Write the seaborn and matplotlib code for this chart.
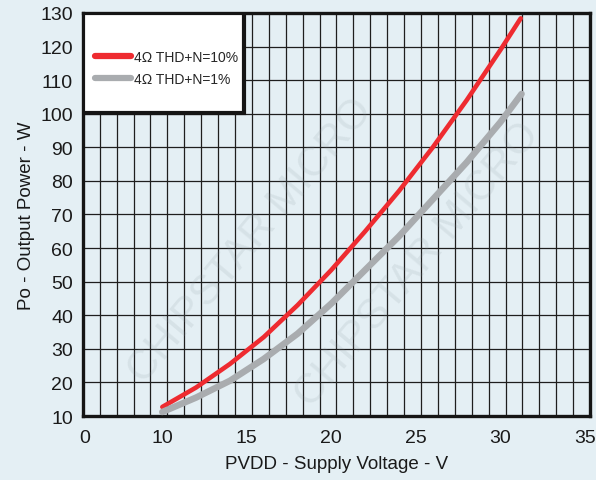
import numpy as np
import pandas as pd
import matplotlib.pyplot as plt
import seaborn as sns
from matplotlib.patches import Rectangle

# values
v_10 = [10, 12, 14, 16, 18, 20, 22, 24, 26, 28, 30, 31.2]
p_10 = [12.7, 18.5, 25.5, 33.5, 43.0, 53.5, 65.0, 77.0, 90.0, 104.0, 119.0, 128.4]
v_1 = [10, 12, 14, 16, 18, 20, 22, 24, 26, 28, 30, 31.25]
p_1 = [11.2, 15.5, 20.5, 27.0, 34.5, 43.5, 53.5, 63.5, 74.5, 85.5, 97.5, 105.9]
labels = ["4\u03a9 THD+N=10%", "4\u03a9 THD+N=1%"]
x_ticks = [10, 15, 20, 25, 30, 35]
y_ticks = list(range(10, 131, 10))

df = pd.concat([
    pd.DataFrame({"V": v_10, "P": p_10, "s": labels[0]}),
    pd.DataFrame({"V": v_1, "P": p_1, "s": labels[1]}),
])

bg = "#e4eff4"
sns.set_style("white")
plt.rcParams["font.family"] = ["Liberation Sans", "DejaVu Sans"]

fig = plt.figure(figsize=(5.96, 4.81), dpi=100, facecolor=bg)
ax = fig.add_axes([0.139, 0.133, 0.851, 0.838])
ax.set_facecolor(bg)

x0 = 5.3
ax.set_xlim(x0, 35.3)
ax.set_ylim(10, 130)

# grid: every 1 V vertically, every 10 W horizontally
ax.set_xticks(np.arange(x0 + 1, 35.3, 1), minor=True)
ax.set_yticks(y_ticks)
ax.set_xticks([x0 + 0.12] + x_ticks)
ax.set_xticklabels(["0"] + [str(t) for t in x_ticks])
ax.grid(False)
ax.grid(True, which="minor", axis="x", color="#1e1e1e", lw=0.9)
ax.grid(True, which="major", axis="y", color="#1e1e1e", lw=0.9)
ax.tick_params(which="both", length=0, labelsize=14, colors="#1a1a1a")
ax.tick_params(axis="x", pad=9)
ax.tick_params(axis="y", pad=7)
ax.set_axisbelow(True)

palette = {labels[0]: "#ee2b30", labels[1]: "#a9acaf"}
sizes = {labels[0]: 3.3, labels[1]: 4.7}
for lab in labels:
    sub = df[df.s == lab]
    sns.lineplot(data=sub, x="V", y="P", color=palette[lab], lw=sizes[lab],
                 ax=ax, zorder=3, legend=False)

for sp in ax.spines.values():
    sp.set_linewidth(2.4)
    sp.set_color("#151515")

ax.set_xlabel("PVDD - Supply Voltage - V", fontsize=13.5, labelpad=7, color="#1a1a1a")
ax.set_ylabel("Po - Output Power - W", fontsize=13.5, labelpad=4, color="#1a1a1a")

# legend box
ax.add_patch(Rectangle((0, 0.752), 0.318, 0.248, transform=ax.transAxes,
                       facecolor="white", edgecolor="#151515", lw=3, zorder=4))
handles = [plt.Line2D([], [], color=palette[l], lw=4.5) for l in labels]
leg = ax.legend(handles, labels, loc="upper left", bbox_to_anchor=(0.0, 0.94),
                frameon=False, fontsize=10, handlelength=2.6, handletextpad=0.15,
                labelspacing=0.6, borderaxespad=0.5)
leg.set_zorder(5)

# watermark
for x, y in [(0.42, 0.5), (0.7, 0.45)]:
    fig.text(x, y, "CHIPSTAR MICRO", rotation=50, fontsize=30, color="#8a969c",
             alpha=0.15, ha="center", va="center", zorder=10)

fig.savefig("out.png", dpi=100, facecolor=bg)
